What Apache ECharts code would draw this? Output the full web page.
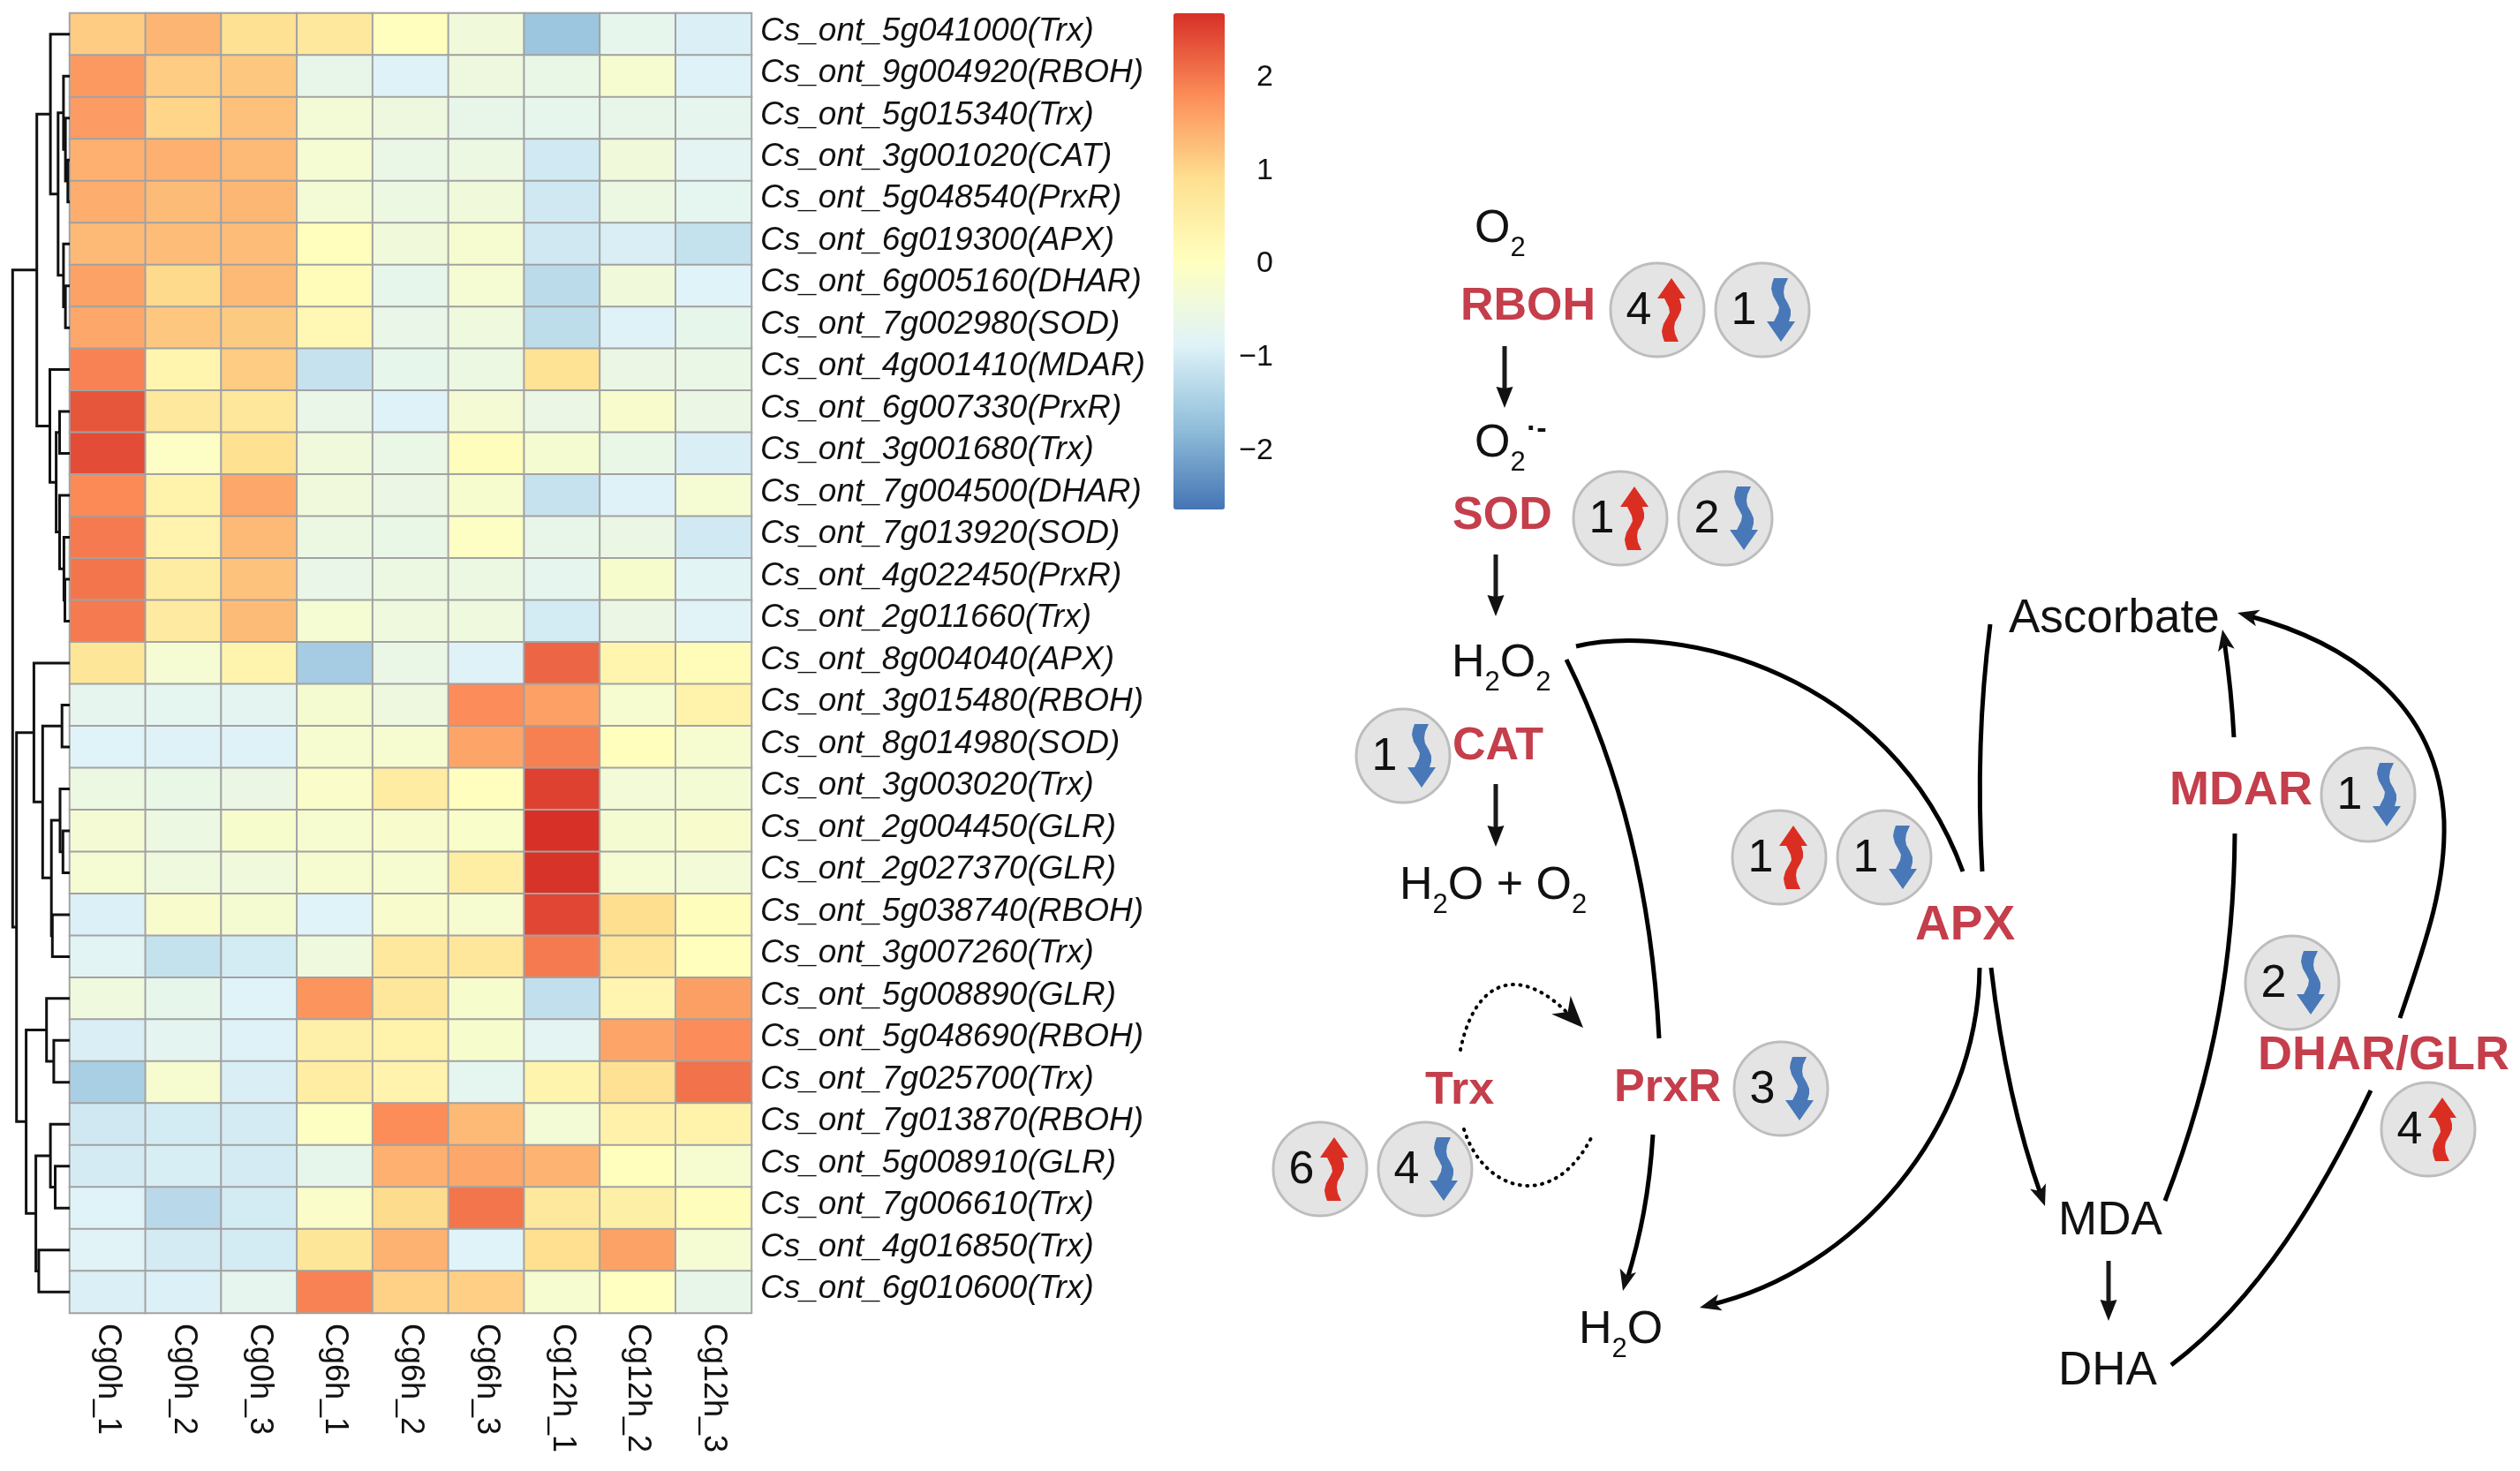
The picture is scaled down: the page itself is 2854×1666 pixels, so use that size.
<!DOCTYPE html>
<html>
<head>
<meta charset="utf-8">
<title>ROS genes heatmap</title>
<script src="https://cdn.jsdelivr.net/npm/echarts@6/dist/echarts.min.js"></script>
<style>
  html, body { margin: 0; padding: 0; background: #fff; }
  #chart { width: 2854px; height: 1666px; }
</style>
</head>
<body>
<div id="chart"></div>
<script>
const samples = ['Cg0h_1', 'Cg0h_2', 'Cg0h_3', 'Cg6h_1', 'Cg6h_2', 'Cg6h_3', 'Cg12h_1', 'Cg12h_2', 'Cg12h_3'];
const genes = [
  'Cs_ont_5g041000(Trx)', 'Cs_ont_9g004920(RBOH)', 'Cs_ont_5g015340(Trx)', 'Cs_ont_3g001020(CAT)',
  'Cs_ont_5g048540(PrxR)', 'Cs_ont_6g019300(APX)', 'Cs_ont_6g005160(DHAR)', 'Cs_ont_7g002980(SOD)',
  'Cs_ont_4g001410(MDAR)', 'Cs_ont_6g007330(PrxR)', 'Cs_ont_3g001680(Trx)', 'Cs_ont_7g004500(DHAR)',
  'Cs_ont_7g013920(SOD)', 'Cs_ont_4g022450(PrxR)', 'Cs_ont_2g011660(Trx)', 'Cs_ont_8g004040(APX)',
  'Cs_ont_3g015480(RBOH)', 'Cs_ont_8g014980(SOD)', 'Cs_ont_3g003020(Trx)', 'Cs_ont_2g004450(GLR)',
  'Cs_ont_2g027370(GLR)', 'Cs_ont_5g038740(RBOH)', 'Cs_ont_3g007260(Trx)', 'Cs_ont_5g008890(GLR)',
  'Cs_ont_5g048690(RBOH)', 'Cs_ont_7g025700(Trx)', 'Cs_ont_7g013870(RBOH)', 'Cs_ont_5g008910(GLR)',
  'Cs_ont_7g006610(Trx)', 'Cs_ont_4g016850(Trx)', 'Cs_ont_6g010600(Trx)'
];
// z-scores, one row per gene
const zScores = [
  [1.1, 1.35, 0.85, 0.65, 0.02, -0.42, -1.65, -0.7, -0.95],
  [1.65, 1.1, 1.15, -0.65, -0.9, -0.5, -0.62, -0.25, -0.9],
  [1.62, 1.0, 1.22, -0.35, -0.5, -0.65, -0.7, -0.65, -0.72],
  [1.4, 1.4, 1.3, -0.3, -0.6, -0.55, -1.05, -0.42, -0.8],
  [1.43, 1.28, 1.33, -0.35, -0.55, -0.42, -1.07, -0.55, -0.75],
  [1.3, 1.27, 1.27, 0.03, -0.42, -0.25, -1.07, -0.97, -1.2],
  [1.55, 0.95, 1.3, 0.1, -0.68, -0.3, -1.3, -0.42, -0.88],
  [1.5, 1.15, 1.12, 0.2, -0.63, -0.47, -1.27, -0.9, -0.68],
  [1.88, 0.3, 1.1, -1.18, -0.68, -0.55, 0.8, -0.58, -0.6],
  [2.3, 0.65, 0.7, -0.63, -0.9, -0.32, -0.58, -0.2, -0.58],
  [2.38, -0.1, 0.87, -0.43, -0.6, 0.05, -0.28, -0.62, -0.97],
  [1.8, 0.35, 1.5, -0.43, -0.58, -0.23, -1.17, -0.9, -0.3],
  [1.95, 0.33, 1.3, -0.55, -0.62, -0.08, -0.65, -0.58, -1.05],
  [2.0, 0.55, 1.2, -0.63, -0.53, -0.55, -0.72, -0.22, -0.82],
  [1.95, 0.57, 1.28, -0.3, -0.47, -0.47, -1.03, -0.58, -0.85],
  [0.72, -0.3, 0.32, -1.55, -0.6, -0.9, 2.15, 0.3, 0.1],
  [-0.72, -0.75, -0.77, -0.28, -0.5, 1.78, 1.57, -0.25, 0.38],
  [-0.88, -0.9, -0.9, -0.27, -0.25, 1.52, 1.9, 0.03, -0.27],
  [-0.55, -0.62, -0.58, -0.15, 0.55, 0.02, 2.5, -0.38, -0.33],
  [-0.32, -0.55, -0.22, -0.25, -0.2, -0.17, 2.66, -0.28, -0.2],
  [-0.3, -0.47, -0.43, -0.25, -0.25, 0.5, 2.63, -0.3, -0.38],
  [-0.93, -0.2, -0.28, -0.88, -0.2, -0.27, 2.45, 0.9, 0.07],
  [-0.83, -1.2, -1.03, -0.47, 0.65, 0.7, 1.95, 0.75, 0.03],
  [-0.47, -0.68, -0.88, 1.7, 0.68, -0.22, -1.22, 0.28, 1.58],
  [-0.97, -0.77, -0.9, 0.42, 0.38, -0.22, -0.8, 1.52, 1.78],
  [-1.5, -0.27, -0.97, 0.52, 0.33, -0.75, 0.32, 0.85, 2.03],
  [-1.08, -1.03, -1.02, -0.05, 1.77, 1.3, -0.35, 0.4, 0.35],
  [-1.02, -0.98, -1.02, -0.68, 1.4, 1.5, 1.37, 0.03, -0.27],
  [-0.88, -1.33, -1.03, -0.15, 0.93, 2.0, 0.65, 0.47, 0.05],
  [-0.85, -1.02, -1.03, 0.72, 1.38, -0.88, 0.88, 1.55, -0.3],
  [-0.95, -0.93, -0.72, 1.88, 1.05, 1.07, -0.25, -0.03, -0.65]
];
// row dendrogram: [height, left, right], plain numbers are row indexes
const rowTree = [64.7,
  [37.3,
    [21.9, 0, [13.2, [7.1, 1, [4.9, 2, [2.2, 3, 4]]], [7.1, 5, [4.9, 6, 7]]]],
    [22.5, 8, [15.4, [11.5, 9, 10], [11.5, 11, [6.6, 12, [5.5, 13, 14]]]]]
  ],
  [60.3,
    [40.6, 15, [30.7, [8.8, 16, 17], [20.8, [11, 18, [7.7, 19, 20]], [19.7, 21, 22]]]],
    [49.4,
      [26.3, 23, [18.1, 24, 25]],
      [38.4, [21.9, 26, [16.5, 27, 28]], [35.1, 29, 30]]
    ]
  ]
];
const colorTicks = [-2, -1, 0, 1, 2];
const colorRange = [-2.66, 2.66];
const palette = ['#4575B4', '#91BFDB', '#E0F3F8', '#FFFFBF', '#FEE090', '#FC8D59', '#D73027'];

// enzymes of the pathway and how many genes go up / down
const enzymes = ['RBOH', 'SOD', 'CAT', 'APX', 'PrxR', 'Trx', 'MDAR', 'DHAR/GLR'];
const upCounts = [4, 1, 0, 1, 0, 6, 0, 4];
const downCounts = [1, 2, 1, 1, 3, 4, 1, 2];

const FONT = '"Liberation Sans", Arial, sans-serif';
const RED_TXT = '#C43E4B';

// pixel layout of the pathway panel
const enzymeLayout = {
  RBOH: { x: 1654, y: 363, size: 52, up: [1877, 351], down: [1996, 351] },
  SOD: { x: 1645, y: 600, size: 52, down: [1954, 587], up: [1835, 587] },
  CAT: { x: 1645, y: 861, size: 52, down: [1589, 856] },
  APX: { x: 2169, y: 1064, size: 55, up: [2015, 971], down: [2134, 971] },
  PrxR: { x: 1828, y: 1248, size: 52, down: [2017, 1233] },
  Trx: { x: 1614, y: 1251, size: 52, up: [1495, 1324], down: [1614, 1324] },
  MDAR: { x: 2457, y: 911, size: 54, down: [2682, 900] },
  'DHAR/GLR': { x: 2557, y: 1211, size: 54, up: [2750, 1279], down: [2596, 1113] }
};
const waveArrow = [[0, -36], [16, -13], [9, -13], [11, -6], [11, 0], [8, 7], [4, 14], [3, 20], [4, 27], [8, 36],
  [-8, 36], [-10, 30], [-11, 24], [-9, 16], [-5, 9], [-2, 3], [-3, -3], [-8, -13], [-16, -13]];

const richText = {
  m: { fontSize: 52, fontFamily: FONT, fill: '#111', lineHeight: 52, verticalAlign: 'top' },
  s: { fontSize: 31, fontFamily: FONT, fill: '#111', lineHeight: 63, padding: [32, 0, 0, 0], verticalAlign: 'bottom' }
};

function heatData() {
  const out = [];
  zScores.forEach((row, r) => row.forEach((v, c) => out.push([c, r, v])));
  return out;
}

// walks the tree, each merge gives a bracket shape on the height axis
function dendroLines() {
  const pts = [];
  const walk = (node) => {
    if (typeof node === 'number') return { h: 0, y: node + 0.5 };
    const a = walk(node[1]);
    const b = walk(node[2]);
    pts.push([a.h, a.y], [node[0], a.y], [node[0], b.y], [b.h, b.y], ['-', '-']);
    return { h: node[0], y: (a.y + b.y) / 2 };
  };
  walk(rowTree);
  return pts;
}

function plainText(text, x, y, bold, size) {
  return {
    type: 'text', x: x, y: y - 15,
    style: {
      text: text, fontSize: size, fontFamily: FONT, fontWeight: bold ? 'bold' : 'normal',
      fill: bold ? RED_TXT : '#111', textAlign: 'left', textVerticalAlign: 'middle'
    }
  };
}

// chemical formula with subscripts
function formula(rich, x, y) {
  return {
    type: 'text', x: x, y: y - 39,
    style: { text: rich, rich: richText, textAlign: 'left', textVerticalAlign: 'top', fontFamily: FONT }
  };
}

function curve(p, dash) {
  return {
    type: 'bezierCurve',
    shape: { x1: p[0], y1: p[1], cpx1: p[2], cpy1: p[3], cpx2: p[4], cpy2: p[5], x2: p[6], y2: p[7] },
    style: dash
      ? { stroke: '#000', fill: 'none', lineWidth: 4, lineDash: [1, 7.5], lineCap: 'round' }
      : { stroke: '#000', fill: 'none', lineWidth: 5 }
  };
}

function arrowHead(tipX, tipY, fromX, fromY, len, wid, notch) {
  const a = Math.atan2(tipY - fromY, tipX - fromX);
  const ux = Math.cos(a), uy = Math.sin(a);
  const nx = -uy, ny = ux;
  return {
    type: 'polygon',
    shape: {
      points: [
        [tipX, tipY],
        [tipX - ux * len + nx * wid / 2, tipY - uy * len + ny * wid / 2],
        [tipX - ux * (len - notch), tipY - uy * (len - notch)],
        [tipX - ux * len - nx * wid / 2, tipY - uy * len - ny * wid / 2]
      ]
    },
    style: { fill: '#111' }
  };
}

function straightArrow(x, y1, y2) {
  return [
    { type: 'line', shape: { x1: x, y1: y1, x2: x, y2: y2 - 10 }, style: { stroke: '#1a1a1a', lineWidth: 5 } },
    arrowHead(x, y2, x, y1, 24, 19, 2)
  ];
}

function badge(center, count, up) {
  const dx = up ? 16 : 21;
  return [
    {
      type: 'circle', shape: { cx: center[0], cy: center[1], r: 53 },
      style: { fill: '#E4E4E4', stroke: '#BDBDBD', lineWidth: 3 }
    },
    {
      type: 'text', x: center[0] - 21, y: center[1] + 2,
      style: { text: String(count), fontSize: 52, fontFamily: FONT, fill: '#111', textAlign: 'center', textVerticalAlign: 'middle' }
    },
    {
      type: 'polygon',
      shape: { points: waveArrow.map((p) => [center[0] + dx + p[0], center[1] + (up ? p[1] : -p[1])]) },
      style: { fill: up ? '#DB2E23' : '#4878B8' }
    }
  ];
}

function pathwayGraphics() {
  let els = [];
  // metabolites
  els.push(formula('{m|O}{s|2}', 1670, 273));
  els.push(formula('{m|O}{s|2}', 1670, 516));
  els.push({
    type: 'text', x: 1729, y: 487,
    style: { text: '·-', fontSize: 34, fontWeight: 'bold', fontFamily: FONT, fill: '#111', textAlign: 'left', textVerticalAlign: 'middle' }
  });
  els.push(formula('{m|H}{s|2}{m|O}{s|2}', 1644, 765));
  els.push(formula('{m|H}{s|2}{m|O + O}{s|2}', 1585, 1017));
  els.push(formula('{m|H}{s|2}{m|O}', 1788, 1520));
  els.push(plainText('Ascorbate', 2275, 716, false, 53));
  els.push(plainText('MDA', 2331, 1398, false, 53));
  els.push(plainText('DHA', 2331, 1568, false, 53));

  // pathway curves
  [
    [1785, 732, 1900, 705, 2140, 760, 2223, 987],
    [1774, 747, 1830, 860, 1870, 1000, 1879, 1176],
    [1872, 1285, 1868, 1350, 1858, 1400, 1842, 1452],
    [2242, 1096, 2240, 1280, 2100, 1440, 1936, 1478],
    [2254, 707, 2242, 800, 2240, 900, 2245, 987],
    [2255, 1096, 2266, 1190, 2285, 1280, 2312, 1355],
    [2452, 1360, 2510, 1210, 2530, 1080, 2531, 944],
    [2530, 835, 2528, 795, 2524, 760, 2519, 725],
    [2459, 1546, 2560, 1470, 2630, 1350, 2685, 1235],
    [2718, 1153, 2750, 1060, 2770, 1000, 2768, 930],
    [2768, 930, 2762, 790, 2650, 725, 2545, 697]
  ].forEach((p) => els.push(curve(p)));
  els.push(curve([1654, 1189, 1670, 1110, 1720, 1090, 1778, 1150], true));
  els.push(curve([1658, 1279, 1680, 1350, 1760, 1375, 1804, 1285], true));

  els.push(arrowHead(1838, 1462, 1846, 1430, 24, 19, 6));
  els.push(arrowHead(1925, 1481, 1960, 1472, 24, 19, 6));
  els.push(arrowHead(2316, 1366, 2305, 1335, 24, 19, 6));
  els.push(arrowHead(2517, 713, 2523, 745, 24, 19, 6));
  els.push(arrowHead(2534, 694, 2565, 702, 24, 19, 6));
  els.push(arrowHead(1793, 1164, 1762, 1132, 36, 30, 11));

  els = els.concat(straightArrow(1704, 392, 462));
  els = els.concat(straightArrow(1694, 628, 698));
  els = els.concat(straightArrow(1694, 888, 959));
  els = els.concat(straightArrow(2388, 1428, 1496));

  // enzymes and their up / down badges
  enzymes.forEach((name, i) => {
    const pos = enzymeLayout[name];
    els.push(plainText(name, pos.x, pos.y, true, pos.size));
    if (upCounts[i] > 0) els = els.concat(badge(pos.up, upCounts[i], true));
    if (downCounts[i] > 0) els = els.concat(badge(pos.down, downCounts[i], false));
  });
  return els;
}

const chart = echarts.init(document.getElementById('chart'));
chart.setOption({
  animation: false,
  backgroundColor: '#fff',
  textStyle: { fontFamily: FONT },
  grid: [
    { left: 79, top: 15, width: 772, height: 1472 },
    { left: 8, top: 15, width: 71, height: 1472 },
    { left: 1329, top: 15, width: 58, height: 562 }
  ],
  xAxis: [
    {
      type: 'category', gridIndex: 0, data: samples, position: 'bottom',
      axisLine: { show: false }, axisTick: { show: false }, splitLine: { show: false },
      axisLabel: { interval: 0, rotate: -90, margin: 12, fontSize: 36, color: '#111', fontFamily: FONT }
    },
    { type: 'value', gridIndex: 1, min: 0, max: 71, inverse: true, show: false },
    { type: 'value', gridIndex: 2, min: 0, max: 1, show: false }
  ],
  yAxis: [
    {
      type: 'category', gridIndex: 0, data: genes, inverse: true, position: 'right',
      axisLine: { show: false }, axisTick: { show: false }, splitLine: { show: false },
      axisLabel: {
        interval: 0, margin: 10,
        formatter: (v) => '{a|' + v + '}',
        rich: { a: { fontSize: 37, fontStyle: 'italic', color: '#111', fontFamily: FONT, padding: [0, 0, 7, 0] } }
      }
    },
    { type: 'value', gridIndex: 1, min: 0, max: 31, inverse: true, show: false },
    {
      type: 'value', gridIndex: 2, min: colorRange[0], max: colorRange[1], position: 'right',
      axisLine: { show: false }, axisTick: { show: false }, splitLine: { show: false },
      axisLabel: {
        customValues: colorTicks, margin: 55, align: 'right',
        formatter: (v) => '{a|' + String(v).replace('-', '−') + '}',
        rich: { a: { fontSize: 34, color: '#111', fontFamily: FONT, padding: [6, 0, 0, 0] } }
      }
    }
  ],
  visualMap: {
    type: 'continuous', seriesIndex: 0, dimension: 2, min: colorRange[0], max: colorRange[1],
    left: 1329, top: 15, itemWidth: 58, itemHeight: 562, padding: 0, itemGap: 0,
    text: null, showLabel: false, calculable: false, hoverLink: false,
    inRange: { color: palette }
  },
  series: [
    {
      type: 'heatmap', xAxisIndex: 0, yAxisIndex: 0, data: heatData(),
      itemStyle: { borderColor: '#A2A2A2', borderWidth: 2 },
      emphasis: { disabled: true }, progressive: 0
    },
    {
      type: 'line', xAxisIndex: 1, yAxisIndex: 1, data: dendroLines(),
      showSymbol: false, symbol: 'none', connectNulls: false, clip: false,
      lineStyle: { color: '#111', width: 3, join: 'miter' }
    }
  ],
  graphic: { elements: pathwayGraphics() }
});
</script>
</body>
</html>
